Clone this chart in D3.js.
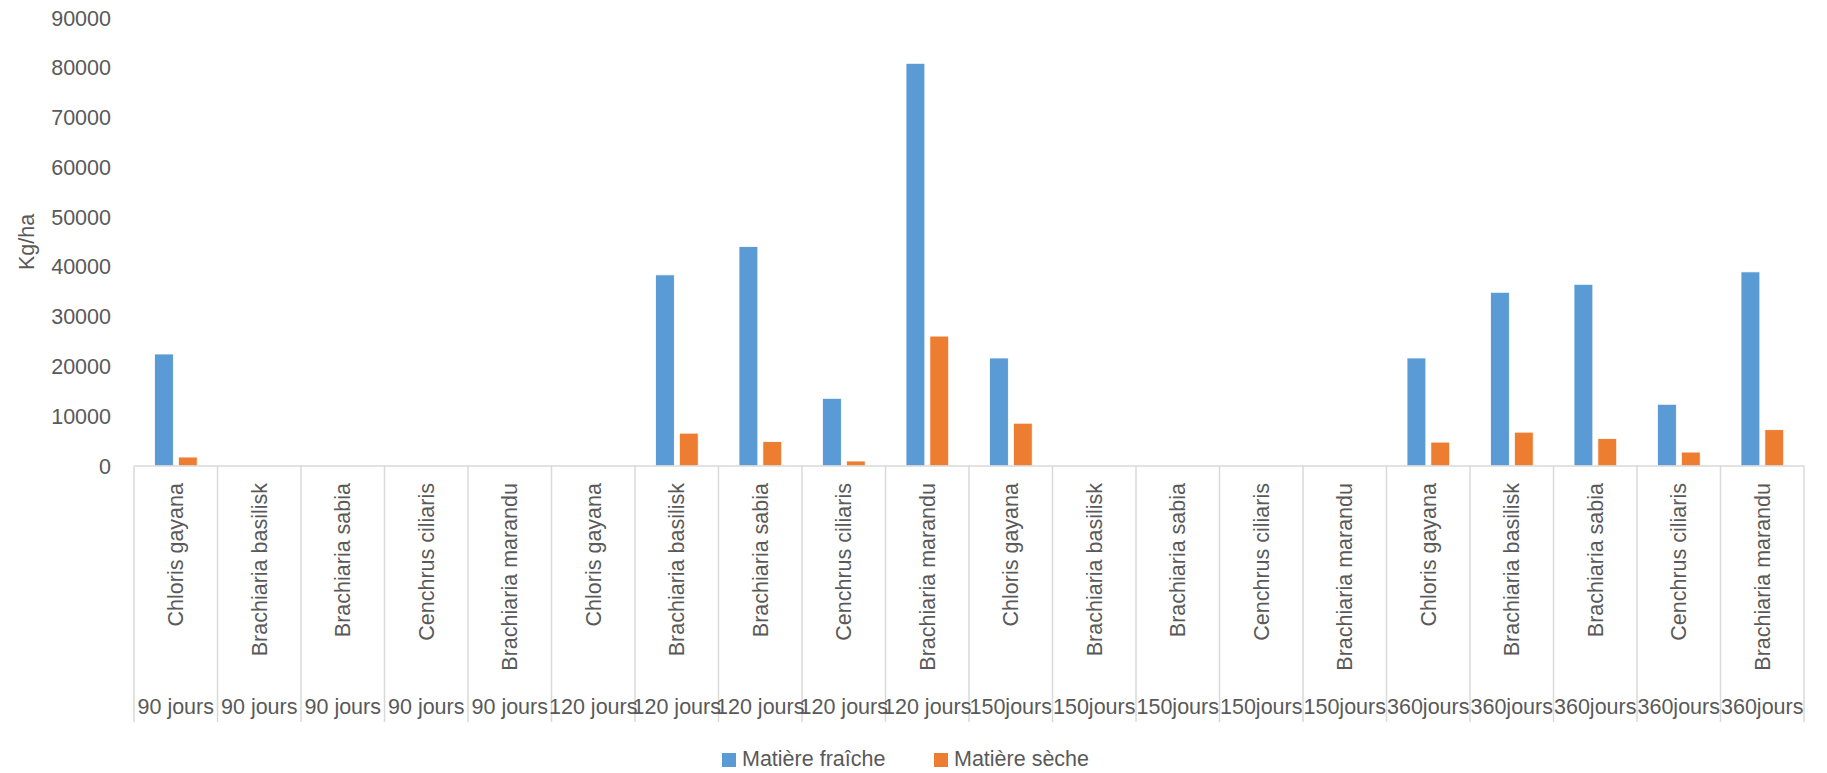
<!DOCTYPE html>
<html>
<head>
<meta charset="utf-8">
<script src="https://cdn.jsdelivr.net/npm/d3@7"></script>
<style>
  html, body { margin: 0; padding: 0; background: #ffffff; }
  svg { display: block; }
  text { font-family: "Liberation Sans", Arial, sans-serif; fill: #595959; }
</style>
</head>
<body>
<svg id="chart" width="1827" height="773"></svg>
<script>
// Species (inner category level)
const species = [
  "Chloris gayana", "Brachiaria basilisk", "Brachiaria sabia", "Cenchrus ciliaris", "Brachiaria marandu",
  "Chloris gayana", "Brachiaria basilisk", "Brachiaria sabia", "Cenchrus ciliaris", "Brachiaria marandu",
  "Chloris gayana", "Brachiaria basilisk", "Brachiaria sabia", "Cenchrus ciliaris", "Brachiaria marandu",
  "Chloris gayana", "Brachiaria basilisk", "Brachiaria sabia", "Cenchrus ciliaris", "Brachiaria marandu"
];
// Cutting age (outer category level)
const periods = [
  "90 jours", "90 jours", "90 jours", "90 jours", "90 jours",
  "120 jours", "120 jours", "120 jours", "120 jours", "120 jours",
  "150jours", "150jours", "150jours", "150jours", "150jours",
  "360jours", "360jours", "360jours", "360jours", "360jours"
];
// Series values (Kg/ha); null = no measurement
const freshMatter = [22500, null, null, null, null, null, 38400, 44100, 13600, 80900,
                     21700, null, null, null, null, 21700, 34900, 36500, 12400, 39000];
const dryMatter   = [1800, null, null, null, null, null, 6600, 4900, 1000, 26100,
                     8600, null, null, null, null, 4800, 6800, 5500, 2800, 7300];
const seriesNames = ["Matière fraîche", "Matière sèche"];
const seriesColors = ["#5B9BD5", "#ED7D31"];
const yTicks = [0, 10000, 20000, 30000, 40000, 50000, 60000, 70000, 80000, 90000];
const yTitle = "Kg/ha";

const svg = d3.select("#chart");
const plotLeft = 134, plotRight = 1804, plotTop = 18, plotBottom = 466;
const fontSize = 21.5;
const gridColor = "#d9d9d9";

const x = d3.scaleBand()
  .domain(d3.range(species.length))
  .range([plotLeft, plotRight])
  .paddingInner(0).paddingOuter(0);

const bw = x.bandwidth();
const xs = d3.scaleBand()
  .domain([0, 1])
  .range([bw * 0.2455, bw * 0.757])
  .paddingInner(0.21);

const y = d3.scaleLinear().domain([0, 90000]).range([plotBottom, plotTop]);

// Y tick labels
svg.append("g").selectAll("text")
  .data(yTicks).join("text")
  .attr("x", 111)
  .attr("y", d => y(d))
  .attr("dy", "0.35em")
  .attr("text-anchor", "end")
  .style("font-size", fontSize + "px")
  .text(d => d);

// Y axis title
svg.append("text")
  .attr("transform", `translate(26, ${(plotTop + plotBottom) / 2}) rotate(-90)`)
  .attr("text-anchor", "middle")
  .attr("dy", "0.35em")
  .style("font-size", fontSize + "px")
  .text(yTitle);

// Bars
const series = [freshMatter, dryMatter];
series.forEach((vals, s) => {
  svg.append("g").selectAll("rect")
    .data(vals.map((v, i) => ({ i, v })).filter(d => d.v != null))
    .join("rect")
    .attr("x", d => x(d.i) + xs(s))
    .attr("width", xs.bandwidth())
    .attr("y", d => y(d.v))
    .attr("height", d => y(0) - y(d.v))
    .attr("fill", seriesColors[s])
    .attr("stroke", "#ffffff")
    .attr("stroke-width", 0.8);
});

// Category separators and axis line
const bounds = d3.range(species.length + 1).map(i => plotLeft + i * bw);
svg.append("g").selectAll("line")
  .data(bounds).join("line")
  .attr("x1", d => d).attr("x2", d => d)
  .attr("y1", plotBottom).attr("y2", 722)
  .attr("stroke", gridColor).attr("stroke-width", 1.5);

svg.append("line")
  .attr("x1", plotLeft).attr("x2", plotRight)
  .attr("y1", plotBottom).attr("y2", plotBottom)
  .attr("stroke", gridColor).attr("stroke-width", 1.5);

// Inner level labels (rotated species names)
svg.append("g").selectAll("text")
  .data(species).join("text")
  .attr("transform", (d, i) => `translate(${x(i) + bw / 2}, 483) rotate(-90)`)
  .attr("text-anchor", "end")
  .attr("dy", "0.35em")
  .style("font-size", fontSize + "px")
  .text(d => d);

// Outer level labels (cutting age)
svg.append("g").selectAll("text")
  .data(periods).join("text")
  .attr("x", (d, i) => x(i) + bw / 2)
  .attr("y", 714)
  .attr("text-anchor", "middle")
  .style("font-size", fontSize + "px")
  .text(d => d);

// Legend
const legendX = [722, 934];
const legend = svg.append("g");
seriesNames.forEach((name, s) => {
  legend.append("rect")
    .attr("x", legendX[s]).attr("y", 753)
    .attr("width", 14).attr("height", 14)
    .attr("fill", seriesColors[s]);
  legend.append("text")
    .attr("x", legendX[s] + 20).attr("y", 766)
    .style("font-size", fontSize + "px")
    .text(name);
});
</script>
</body>
</html>
